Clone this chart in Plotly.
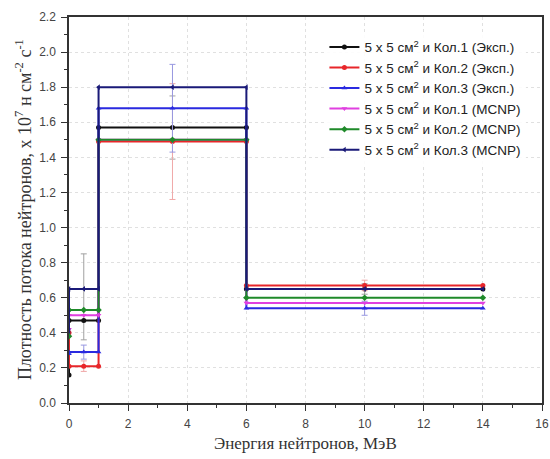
import plotly.graph_objects as go

# Energy group boundaries (MeV); the first group is the thermal one, of near-zero width
edges = [0.0, 0.0, 1.0, 6.0, 14.0]
mids = [0.5, 3.5, 10.0]

names = [
    "5 x 5 см<sup>2</sup> и Кол.1 (Эксп.)",
    "5 x 5 см<sup>2</sup> и Кол.2 (Эксп.)",
    "5 x 5 см<sup>2</sup> и Кол.3 (Эксп.)",
    "5 x 5 см<sup>2</sup> и Кол.1 (MCNP)",
    "5 x 5 см<sup>2</sup> и Кол.2 (MCNP)",
    "5 x 5 см<sup>2</sup> и Кол.3 (MCNP)",
]

x_title = "Энергия нейтронов, МэВ"
y_title = "Плотность потока нейтронов, x 10<sup>7</sup> н см<sup>-2</sup> с<sup>-1</sup>"

# Flux density per group: thermal, 0-1, 1-6, 6-14 MeV (x 10^7 n cm^-2 s^-1)
flux_exp1 = [0.16, 0.47, 1.57, 0.65]
flux_exp2 = [0.40, 0.21, 1.49, 0.67]
flux_exp3 = [0.28, 0.29, 1.68, 0.54]
flux_mc1 = [0.42, 0.50, 1.50, 0.57]
flux_mc2 = [0.38, 0.53, 1.50, 0.60]
flux_mc3 = [0.41, 0.65, 1.80, 0.65]

# Measurement uncertainties at group midpoints (upper, lower)
err_exp1_up = [0.38, 0.18, 0.03]
err_exp1_dn = [0.11, 0.18, 0.03]
err_exp2 = [0.03, 0.33, 0.03]
err_exp3 = [0.04, 0.25, 0.04]

series = [
    (flux_exp1, "#111111", "#a0a0a0", "circle", err_exp1_up, err_exp1_dn),
    (flux_exp2, "#e8262a", "#f0a8a8", "circle", err_exp2, err_exp2),
    (flux_exp3, "#2a2ae0", "#9898e0", "triangle-up", err_exp3, err_exp3),
    (flux_mc1, "#e040e0", "#e0a0e0", "triangle-down", None, None),
    (flux_mc2, "#1f8a2a", "#90c090", "diamond", None, None),
    (flux_mc3, "#1a1a78", "#8080b0", "triangle-left", None, None),
]

fig = go.Figure()

for name, (vals, col, ecol, sym, eu, ed) in zip(names, series):
    # step outline with points at group edges and centres
    xs = [edges[0], edges[1], mids[0], edges[2], edges[2], mids[1], edges[3], edges[3], mids[2], edges[4]]
    ys = [vals[0], vals[1], vals[1], vals[1], vals[2], vals[2], vals[2], vals[3], vals[3], vals[3]]
    if eu is not None:
        fig.add_trace(go.Scatter(
            x=mids, y=vals[1:], mode="markers", showlegend=False,
            marker=dict(size=1, color=ecol),
            error_y=dict(type="data", symmetric=False, array=eu, arrayminus=ed,
                         color=ecol, thickness=1, width=3),
            hoverinfo="skip",
        ))
    fig.add_trace(go.Scatter(
        x=xs, y=ys, mode="lines+markers", name=name,
        line=dict(color=col, width=2),
        marker=dict(symbol=sym, size=5, color=col),
    ))

axis_common = dict(
    showline=True, linecolor="#333333", linewidth=1.5, mirror=True,
    ticks="outside", ticklen=6, tickwidth=1.2, tickcolor="#333333",
    showgrid=True, gridcolor="#e0e0e0", griddash="dot", gridwidth=1,
    zeroline=False, automargin=False,
    tickfont=dict(family="Liberation Sans, Arial", size=12, color="#444444"),
)

fig.update_xaxes(
    range=[0, 16], dtick=2, tick0=0, ticklabelstandoff=3,
    minor=dict(dtick=1, ticks="outside", ticklen=3, tickcolor="#333333", showgrid=False),
    **axis_common,
)
fig.update_yaxes(
    range=[0, 2.2], dtick=0.2, tick0=0, tickformat=".1f", ticklabelstandoff=3,
    minor=dict(dtick=0.1, ticks="outside", ticklen=3, tickcolor="#333333", showgrid=False),
    **axis_common,
)

# axis captions
fig.add_annotation(
    text=x_title, xref="paper", yref="paper", x=0.5, y=-0.105,
    xanchor="center", yanchor="middle", showarrow=False,
    font=dict(family="Liberation Serif, Times New Roman", size=17, color="#333333"),
)
fig.add_annotation(
    text=y_title, xref="paper", yref="paper", x=-0.097, y=0.5,
    xanchor="center", yanchor="middle", showarrow=False, textangle=-90,
    font=dict(family="Liberation Serif, Times New Roman", size=18, color="#333333"),
)

fig.update_layout(
    width=550, height=459,
    margin=dict(l=69, r=8, t=17, b=56),
    paper_bgcolor="white", plot_bgcolor="white",
    legend=dict(
        x=0.54, y=0.962, xanchor="left", yanchor="top",
        bgcolor="rgba(255,255,255,0.9)", borderwidth=0,
        font=dict(family="Liberation Sans, Arial", size=13.5, color="#222222"),
        itemwidth=30, tracegroupgap=0,
    ),
)

fig.write_html("out.html")
